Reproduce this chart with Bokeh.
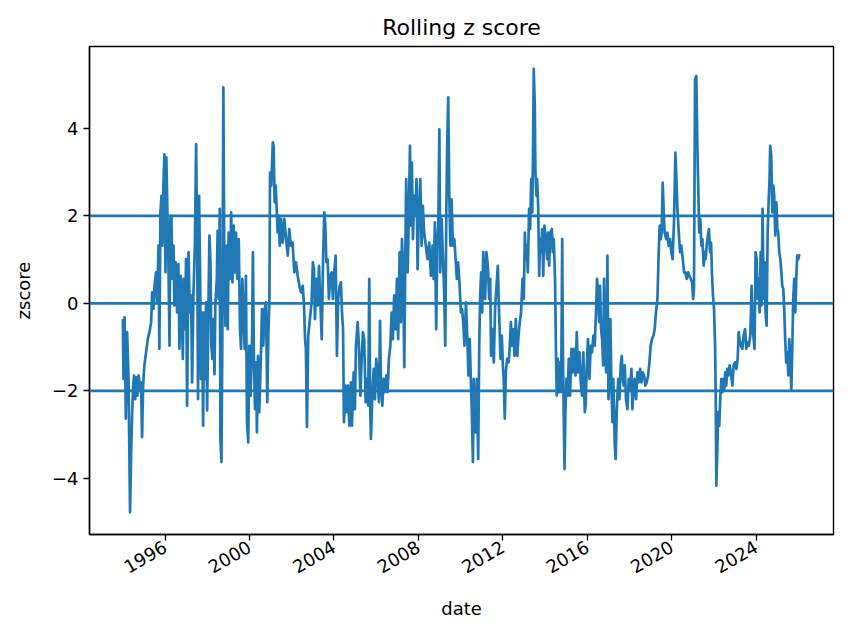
import math
import pandas as pd
from bokeh.plotting import figure
from bokeh.models import Span, FixedTicker, DatetimeTickFormatter, Range1d
from bokeh.embed import file_html
from bokeh.resources import INLINE

# ---- data (decimal year, rolling z score) ----
years_a = [1994.00, 1994.03, 1994.08, 1994.14, 1994.20, 1994.27, 1994.30, 1994.34, 1994.39, 1994.44,
           1994.49, 1994.53, 1994.58, 1994.63, 1994.69, 1994.75, 1994.82, 1994.86, 1994.91, 1994.96,
           1995.02, 1995.10, 1995.18, 1995.26, 1995.34, 1995.39, 1995.45, 1995.50, 1995.57, 1995.62,
           1995.69, 1995.73, 1995.78, 1995.83, 1995.87, 1995.92, 1995.97, 1996.02, 1996.06, 1996.11,
           1996.16, 1996.21, 1996.25, 1996.30, 1996.35, 1996.40, 1996.44, 1996.50, 1996.57, 1996.63,
           1996.68, 1996.74, 1996.79, 1996.84, 1996.88, 1996.95, 1996.99, 1997.04, 1997.11, 1997.17,
           1997.23, 1997.28, 1997.34, 1997.41, 1997.47, 1997.52, 1997.56, 1997.61, 1997.66, 1997.70,
           1997.75, 1997.80, 1997.85, 1997.89, 1997.94, 1997.99, 1998.05, 1998.10, 1998.15, 1998.19,
           1998.24, 1998.29, 1998.34, 1998.38, 1998.45, 1998.49, 1998.54, 1998.59, 1998.62, 1998.67,
           1998.71, 1998.76, 1998.81, 1998.86, 1998.92, 1998.97, 1999.01, 1999.08, 1999.13, 1999.19,
           1999.25, 1999.31]
z_a = [-0.36, -1.73, -0.32, -2.64, -0.66, -1.73, -3.10, -4.78, -3.48, -2.49,
       -1.88, -1.65, -2.19, -1.69, -2.11, -1.65, -1.96, -1.81, -3.06, -1.88,
       -1.42, -1.12, -0.82, -0.66, -0.43, 0.25, -0.13, 0.40, 0.71, 0.02,
       1.32, -1.04, 2.08, 2.46, 1.32, 2.69, 3.41, 0.71, 3.34, 2.08,
       0.94, -0.97, 1.93, 2.00, 0.56, 1.32, -0.05, 0.94, -0.21, 0.90,
       -1.04, 0.63, -0.13, -1.27, 0.56, -0.59, 1.01, -2.34, 1.17, -0.21,
       0.18, -1.81, 0.18, 1.32, 3.64, 1.32, -2.19, 2.46, 0.56, -1.73,
       -0.21, -2.80, -0.21, -1.73, 0.02, -2.45, -0.21, 1.55, 0.94, -0.97,
       -1.27, -0.36, -1.62, -0.05, 0.56, 1.66, 0.10, 2.16, -3.10, -3.63,
       -0.97, 4.94, 0.56, -0.51, 1.32, -0.59, 1.62, 0.56, 2.08, 0.48,
       1.78, 0.71]

years_b = [1999.36, 1999.42, 1999.49, 1999.55, 1999.60, 1999.66, 1999.72, 1999.77, 1999.83, 1999.88,
           1999.94, 1999.99, 2000.05, 2000.12, 2000.16, 2000.21, 2000.26, 2000.31, 2000.35, 2000.40,
           2000.46, 2000.53, 2000.59, 2000.65, 2000.72, 2000.78, 2000.84, 2000.89, 2000.94, 2000.97,
           2001.03, 2001.10, 2001.14, 2001.19, 2001.24, 2001.29, 2001.33, 2001.38, 2001.43, 2001.49,
           2001.57, 2001.65, 2001.73, 2001.81, 2001.88, 2001.96, 2002.04, 2002.12, 2002.20, 2002.28,
           2002.36, 2002.44, 2002.52, 2002.58, 2002.63, 2002.67, 2002.72, 2002.78, 2002.86, 2002.94,
           2003.00, 2003.05, 2003.10, 2003.16, 2003.23, 2003.29, 2003.35, 2003.42, 2003.48, 2003.54,
           2003.59, 2003.64, 2003.70, 2003.76, 2003.83, 2003.89, 2003.95, 2004.01, 2004.08, 2004.14,
           2004.20, 2004.27, 2004.33, 2004.38, 2004.43, 2004.47, 2004.54, 2004.60, 2004.66, 2004.73]
z_b = [1.62, 0.56, 1.47, -0.59, -1.04, 0.56, -0.36, -1.04, 0.63, -2.72,
       -3.18, -0.97, -2.11, -0.82, 1.17, -1.35, -2.42, -1.35, -2.95, -1.20,
       -2.49, -1.35, -0.13, -0.97, -0.13, 0.02, -2.26, -0.74, 0.10, 2.99,
       2.69, 3.68, 3.60, 2.31, 2.69, 2.08, 1.62, 2.00, 1.32, 1.93,
       1.39, 1.93, 1.47, 1.09, 1.70, 1.32, 1.39, 0.71, 0.94, 0.63,
       0.40, 0.25, 0.40, -0.05, -0.82, -1.04, -2.83, -0.74, -0.36, 0.02,
       0.94, 0.78, -0.36, 0.56, -0.05, 0.86, 0.10, -0.82, 0.94, 2.08,
       1.78, 0.94, 1.01, 0.10, 0.63, 0.71, 0.10, 0.71, 1.09, -1.20,
       0.10, 0.40, 0.48, -0.21, -0.59, -2.72, -1.88, -2.49, -1.88, -2.80]

years_c = [2004.80, 2004.85, 2004.93, 2004.99, 2005.04, 2005.12, 2005.18, 2005.25, 2005.31, 2005.37,
           2005.43, 2005.50, 2005.56, 2005.62, 2005.67, 2005.72, 2005.75, 2005.81, 2005.88, 2005.94,
           2006.00, 2006.07, 2006.13, 2006.18, 2006.22, 2006.29, 2006.35, 2006.41, 2006.48, 2006.54,
           2006.60, 2006.67, 2006.73, 2006.79, 2006.85, 2006.92, 2006.98, 2007.04, 2007.11, 2007.17,
           2007.22, 2007.28, 2007.33, 2007.38, 2007.42, 2007.49, 2007.53, 2007.60, 2007.64, 2007.69,
           2007.74, 2007.80, 2007.85, 2007.91, 2007.96, 2008.02, 2008.09, 2008.15, 2008.21, 2008.27,
           2008.35, 2008.43, 2008.51, 2008.59, 2008.67, 2008.72, 2008.78, 2008.84, 2008.89, 2008.94,
           2008.99, 2009.03, 2009.10, 2009.14, 2009.21, 2009.27, 2009.32, 2009.36, 2009.41, 2009.46,
           2009.51, 2009.57, 2009.63, 2009.70, 2009.76, 2009.82, 2009.88, 2009.95, 2010.01, 2010.07,
           2010.14, 2010.18]
z_c = [-1.81, -2.80, -1.58, -2.42, -0.97, -0.43, -0.97, -2.11, -1.27, -0.66,
       -0.82, -2.26, -1.73, -2.34, 0.56, -2.49, -3.10, -2.19, -1.50, -2.19,
       -1.27, -1.73, -2.26, -0.40, -1.73, -2.34, -1.73, -2.03, -1.65, -2.03,
       -1.27, -0.97, -0.21, -0.82, 0.18, -0.59, 0.56, -0.82, 1.17, -0.43,
       1.47, 0.71, -1.46, 1.17, 2.84, 0.71, 1.62, 3.60, 1.78, 3.22,
       1.47, 2.46, 2.00, 2.84, 0.78, 2.08, 2.84, 1.32, 2.23, 1.62,
       1.32, 1.01, 1.39, 0.63, 1.32, 0.56, 1.85, -0.59, 1.32, 1.78,
       3.98, 0.71, 1.93, 1.32, 0.40, -0.97, 2.08, 3.60, 4.71, 2.46,
       1.32, 2.38, 1.32, 1.47, 1.01, 0.56, 0.94, 0.40, -0.21, -0.13,
       -0.59, -0.97]

years_d = [2010.25, 2010.31, 2010.37, 2010.43, 2010.48, 2010.53, 2010.58, 2010.62, 2010.67, 2010.72,
           2010.77, 2010.83, 2010.88, 2010.92, 2010.97, 2011.02, 2011.07, 2011.11, 2011.16, 2011.22,
           2011.29, 2011.35, 2011.40, 2011.44, 2011.51, 2011.57, 2011.63, 2011.70, 2011.76, 2011.82,
           2011.89, 2011.95, 2012.00, 2012.04, 2012.09, 2012.14, 2012.20, 2012.27, 2012.31, 2012.38,
           2012.42, 2012.49, 2012.55, 2012.61, 2012.68, 2012.74, 2012.80, 2012.86, 2012.93, 2012.99,
           2013.04, 2013.09, 2013.13, 2013.18, 2013.24, 2013.29, 2013.34, 2013.39, 2013.43, 2013.46,
           2013.51, 2013.54, 2013.59, 2013.62, 2013.67, 2013.72, 2013.76, 2013.81, 2013.86, 2013.91,
           2013.97, 2014.03, 2014.10, 2014.14, 2014.19, 2014.25, 2014.32, 2014.36, 2014.41, 2014.47,
           2014.51, 2014.55, 2014.60, 2014.66, 2014.71, 2014.76, 2014.81, 2014.84, 2014.88, 2014.92,
           2014.96, 2015.01, 2015.07, 2015.12, 2015.18, 2015.25, 2015.31, 2015.37, 2015.44, 2015.50,
           2015.56, 2015.63]
z_d = [0.02, -0.74, -1.65, -0.82, -1.73, -2.49, -3.63, -1.73, -2.49, -2.95,
       -1.73, -3.56, -0.97, 0.10, 0.71, -0.21, 1.17, 0.56, 0.10, 1.17,
       0.86, 0.10, 0.56, -1.20, -0.59, -1.35, -0.13, 0.40, 0.86, -0.21,
       -1.27, -0.74, -1.42, -1.73, -2.64, -1.58, -1.27, -1.35, -1.12, -0.43,
       -0.97, -0.59, -1.20, -0.36, -1.20, -0.74, -0.43, -0.21, 0.56, 0.10,
       1.62, 1.01, 1.32, 0.71, 2.16, 1.70, 2.84, 2.08, 3.60, 5.36,
       4.52, 2.99, 2.46, 2.84, 2.23, 0.63, 1.47, 1.17, 1.70, 0.63,
       1.78, 1.47, 1.01, 1.62, 0.86, 1.62, 1.70, 1.17, 1.47, 0.56,
       -0.97, -2.11, -1.27, -2.03, -1.35, -2.03, 1.47, -0.97, -2.49, -3.79,
       -2.49, -1.73, -2.11, -1.27, -2.11, -1.04, -1.58, -1.04, -1.65, -0.66,
       -1.58, -1.12]

years_e = [2015.69, 2015.75, 2015.81, 2015.88, 2015.92, 2015.97, 2016.03, 2016.10, 2016.16, 2016.22,
           2016.29, 2016.35, 2016.41, 2016.46, 2016.51, 2016.56, 2016.60, 2016.65, 2016.70, 2016.75,
           2016.79, 2016.84, 2016.89, 2016.95, 2017.00, 2017.04, 2017.09, 2017.14, 2017.19, 2017.23,
           2017.30, 2017.34, 2017.39, 2017.46, 2017.52, 2017.58, 2017.63, 2017.68, 2017.72, 2017.77,
           2017.83, 2017.90, 2017.96, 2018.02, 2018.09, 2018.13, 2018.18, 2018.24, 2018.31, 2018.37,
           2018.43, 2018.50, 2018.56, 2018.62, 2018.69, 2018.75, 2018.81, 2018.88, 2018.94, 2019.00,
           2019.06, 2019.13, 2019.19, 2019.25, 2019.32, 2019.38, 2019.43, 2019.48, 2019.52, 2019.57,
           2019.62, 2019.66, 2019.73, 2019.79, 2019.85, 2019.92, 2019.98, 2020.04, 2020.11, 2020.17,
           2020.22, 2020.26, 2020.33, 2020.39, 2020.45, 2020.52, 2020.58, 2020.64, 2020.71, 2020.77,
           2020.83, 2020.90, 2020.96, 2021.01, 2021.05, 2021.10]
z_e = [-1.81, -2.11, -1.12, -2.49, -2.34, -1.50, -0.82, -1.73, -0.97, -1.12,
       -0.74, -0.97, -0.21, 0.56, 0.25, -0.43, 0.40, -0.59, -0.82, -1.42,
       0.56, -0.97, -1.58, 1.09, -2.19, -1.73, -0.36, -1.88, -2.72, -1.73,
       -3.25, -3.56, -2.49, -1.73, -2.19, -1.42, -1.20, -1.73, -1.88, -1.42,
       -2.19, -2.42, -1.73, -1.96, -1.50, -2.42, -2.03, -1.73, -2.19, -1.58,
       -1.81, -1.50, -1.81, -1.58, -1.65, -1.88, -1.81, -1.65, -1.35, -0.97,
       -0.82, -0.74, -0.59, -0.21, 0.10, 1.17, 1.78, 1.47, 1.62, 2.76,
       2.08, 1.62, 1.47, 1.62, 1.32, 1.47, 1.17, 1.01, 1.93, 3.45,
       2.84, 2.23, 1.62, 1.17, 1.32, 1.01, 0.71, 0.71, 0.56, 0.71,
       0.63, 0.56, 0.48, 0.10, 0.33, 5.13]

years_f = [2021.16, 2021.21, 2021.26, 2021.30, 2021.35, 2021.40, 2021.45, 2021.51, 2021.56, 2021.60,
           2021.65, 2021.71, 2021.76, 2021.81, 2021.86, 2021.90, 2021.95, 2022.00, 2022.05, 2022.08,
           2022.11, 2022.16, 2022.20, 2022.25, 2022.30, 2022.35, 2022.39, 2022.44, 2022.49, 2022.53,
           2022.58, 2022.63, 2022.68, 2022.74, 2022.80, 2022.87, 2022.93, 2022.99, 2023.06, 2023.12,
           2023.17, 2023.21, 2023.28, 2023.34, 2023.40, 2023.47, 2023.53, 2023.59, 2023.65, 2023.72,
           2023.78, 2023.83, 2023.88, 2023.92, 2023.97, 2024.02, 2024.07, 2024.11, 2024.16, 2024.21,
           2024.25, 2024.30, 2024.35, 2024.40, 2024.44, 2024.49, 2024.54, 2024.59, 2024.63, 2024.66,
           2024.71, 2024.76, 2024.81, 2024.85, 2024.90, 2024.95, 2025.00, 2025.04, 2025.09, 2025.14,
           2025.19, 2025.23, 2025.28, 2025.33, 2025.37, 2025.42, 2025.47, 2025.52, 2025.56, 2025.61,
           2025.66, 2025.71, 2025.75, 2025.80, 2025.85, 2025.90, 2025.94, 2025.99, 2026.04]
z_f = [5.20, 3.60, 2.46, 1.62, 1.93, 1.32, 1.47, 0.86, 1.17, 1.01,
       1.32, 1.55, 1.70, 1.17, 1.39, 0.71, 0.18, -0.13, -0.97, -2.11,
       -4.17, -3.25, -2.49, -2.80, -2.11, -1.73, -2.03, -1.73, -1.96, -1.58,
       -1.88, -1.50, -1.65, -1.42, -1.58, -1.88, -1.42, -1.35, -1.50, -1.27,
       -0.66, -0.82, -0.97, -1.04, -0.74, -0.59, -1.04, -0.89, -0.97, -0.74,
       0.40, -0.59, -0.82, -1.04, 1.17, 1.01, 0.10, 0.56, -0.21, 1.17,
       -0.05, 2.16, 0.10, 0.94, -0.21, -0.51, 1.62, 2.38, 2.84, 3.60,
       3.38, 2.08, 2.69, 2.46, 1.55, 2.31, 1.70, 1.62, 1.17, 1.01,
       0.71, 0.40, 0.33, -0.21, -0.82, -1.35, -1.12, -1.65, -0.82, -1.12,
       -2.00, -0.97, 0.10, 0.56, -0.21, 0.63, 1.09, 1.01, 1.13]

threshold_levels = [-2, 0, 2]
y_tick_values = [-4, -2, 0, 2, 4]
y_tick_labels = ["\u22124", "\u22122", "0", "2", "4"]
x_tick_years = [1996, 2000, 2004, 2008, 2012, 2016, 2020, 2024]

years = years_a + years_b + years_c + years_d + years_e + years_f
zscore = z_a + z_b + z_c + z_d + z_e + z_f


def to_ts(y):
    yr = int(math.floor(y))
    start = pd.Timestamp(yr, 1, 1)
    end = pd.Timestamp(yr + 1, 1, 1)
    return start + (end - start) * (y - yr)


dates = [to_ts(y) for y in years]

BLUE = "#1f77b4"
FONT = "DejaVu Sans"

p = figure(
    x_axis_type="datetime",
    frame_width=744, frame_height=488,
    min_border_left=89, min_border_right=12, min_border_top=46, min_border_bottom=100,
    output_backend="svg", toolbar_location=None,
    x_range=Range1d(to_ts(1992.42), to_ts(2027.66)),
    y_range=Range1d(-5.287, 5.874),
    title="Rolling z score",
)

p.line(dates, zscore, line_color=BLUE, line_width=2.7, line_join="round")

for lvl in threshold_levels:
    p.add_layout(Span(location=lvl, dimension="width", line_color=BLUE, line_width=2.7))

p.title.align = "center"
p.title.text_font = FONT
p.title.text_font_size = "22px"
p.title.text_font_style = "normal"
p.title.text_color = "black"
p.title.standoff = 13

p.xgrid.visible = False
p.ygrid.visible = False
p.outline_line_color = "black"
p.outline_line_width = 1.4
p.outline_line_alpha = 1

p.xaxis.ticker = FixedTicker(ticks=[pd.Timestamp(y, 1, 1).value / 1e6 for y in x_tick_years])
p.xaxis.formatter = DatetimeTickFormatter(years="%Y", months="%Y", days="%Y", hours="%Y",
                                          minutes="%Y", seconds="%Y", milliseconds="%Y")
p.xaxis.major_label_orientation = math.pi / 6
p.xaxis.axis_label = "date"

p.yaxis.ticker = FixedTicker(ticks=y_tick_values)
p.yaxis.major_label_overrides = dict(zip(y_tick_values, y_tick_labels))
p.yaxis.axis_label = "zscore"

for ax in (p.xaxis, p.yaxis):
    ax.axis_line_color = "black"
    ax.axis_line_width = 1.4
    ax.major_tick_line_color = "black"
    ax.major_tick_line_width = 1.3
    ax.major_tick_out = 6
    ax.major_tick_in = 0
    ax.minor_tick_line_color = None
    ax.major_label_text_font = FONT
    ax.major_label_text_font_size = "18px"
    ax.major_label_text_color = "black"
    ax.axis_label_text_font = FONT
    ax.axis_label_text_font_size = "18px"
    ax.axis_label_text_font_style = "normal"
    ax.axis_label_text_color = "black"
    ax.major_label_standoff = 5

p.xaxis.axis_label_standoff = 15
p.yaxis.axis_label_standoff = 15

open("out.html", "w").write(file_html(p, INLINE))
